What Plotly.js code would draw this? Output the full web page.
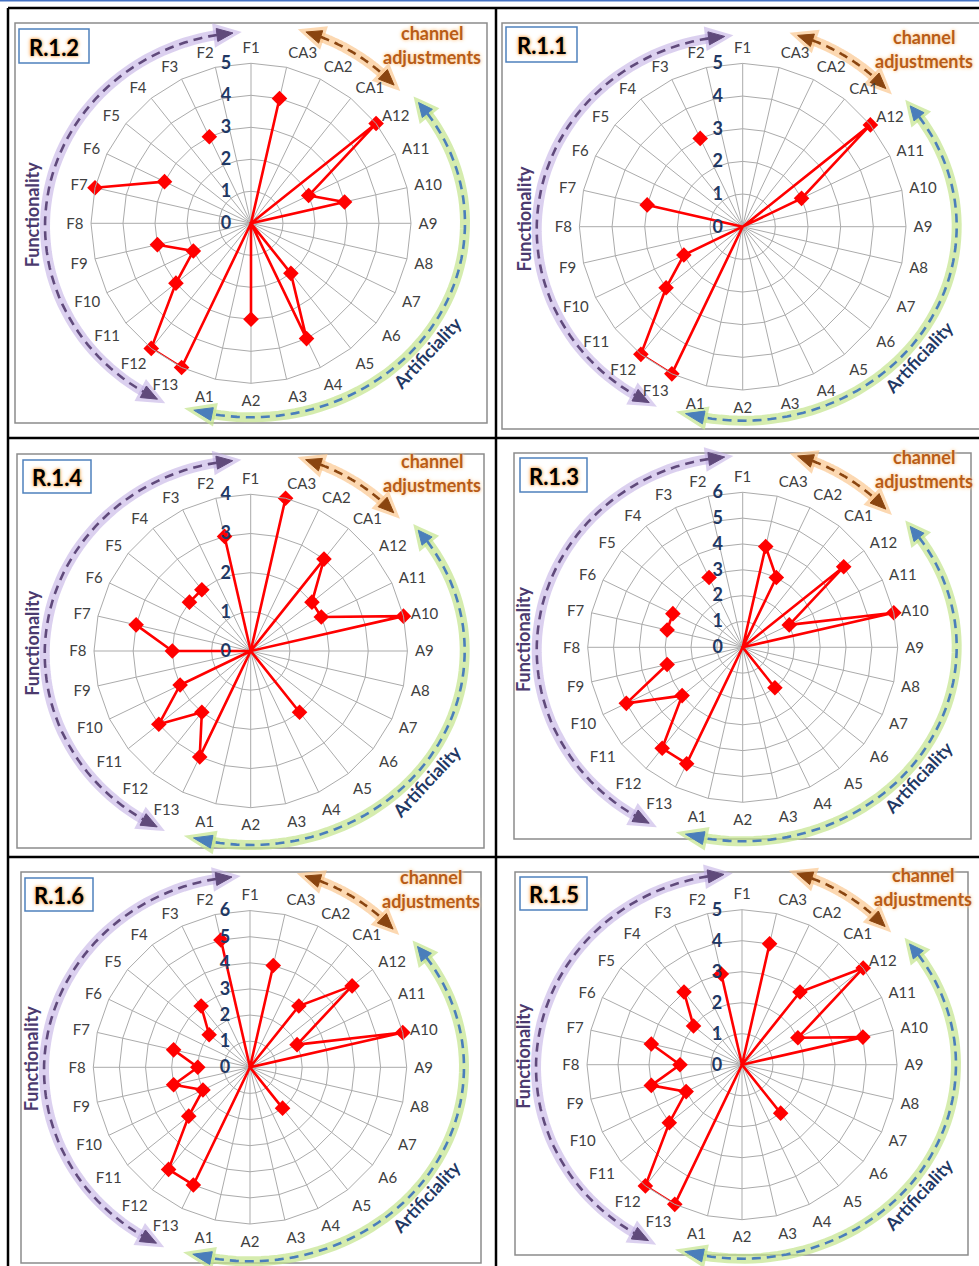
<!DOCTYPE html>
<html><head><meta charset="utf-8">
<script src="https://cdn.plot.ly/plotly-3.0.1.min.js"></script>
<style>html,body{margin:0;padding:0;background:#fff}#chart{width:979px;height:1266px}</style>
</head><body><div id="chart"></div>
<script>
// ---------- DATA ----------
const categories = ['F1','F2','F3','F4','F5','F6','F7','F8','F9','F10','F11','F12','F13',
  'A1','A2','A3','A4','A5','A6','A7','A8','A9','A10','A11','A12','CA1','CA2','CA3'];
const panelNames = ['R.1.2','R.1.1','R.1.4','R.1.3','R.1.6','R.1.5'];
const radialMax = [5,5,4,6,6,5];
//                F1   F2   F3   F4   F5   F6   F7 F8   F9 F10 F11 F12 F13 A1 A2 A3 A4 A5 A6 A7 A8 A9 A10 A11 A12 CA1 CA2 CA3
const r_R12 = [0, null, 3, null, null, 3, 5, null, 3, 2, 3, 5, 5, 0, 3, 0, 4, 2, 0, 0, 0, 0, 3, 2, 5, 0, 0, 4];
const r_R11 = [0, null, 3, null, null, null, 3, 0, 0, 2, 3, 5, 5, 0, 0, 0, 0, 0, 0, 0, 0, 0, 0, 2, 5, 0, 0, 0];
const r_R14 = [0, 3, null, 2, 2, null, 3, 2, 0, 2, 3, 2, 3, 0, 0, 0, 0, 2, 0, 0, 0, 0, 4, 2, 2, 3, 0, 4];
const r_R13 = [0, null, 3, null, null, 3, 3, null, 3, 5, 3, 5, 5, 0, 0, 0, 0, 2, 0, 0, 0, 0, 6, 2, 5, 0, 3, 4];
const r_R16 = [0, 5, null, 3, 2, null, 3, 2, 3, 2, 3, 5, 5, 0, 0, 0, 0, 2, 0, 0, 0, 0, 6, 2, 5, 3, 0, 4];
const r_R15 = [0, 3, null, 3, 2, null, 3, 2, 3, 2, 3, 5, 5, 0, 0, 0, 0, 2, 0, 0, 0, 0, 4, 2, 5, 3, 0, 4];
const seriesValues = [r_R12, r_R11, r_R14, r_R13, r_R16, r_R15];

// ---------- LAYOUT CONFIG ----------
const W = 979, H = 1266;
const panels = [
  {cx:251,   cy:223.3,  R:160,   box:[15,23,487,423],   lab:[19,29,89,63]},
  {cx:742.7, cy:226.7,  R:163.3, box:[502,23,990,429],  lab:[506,27,577,62]},
  {cx:250.7, cy:651,    R:156.7, box:[17,454,484,848],  lab:[23,460,91,493]},
  {cx:742.7, cy:647.3,  R:155,   box:[514,453,971,839], lab:[520,458,587,492]},
  {cx:250,   cy:1067.3, R:156.7, box:[21,872,481,1263], lab:[25,878,93,911]},
  {cx:742,   cy:1064.7, R:155,   box:[515,872,968,1255],lab:[520,877,587,910]}
];
const FONT = 'Lato, Open Sans, sans-serif';

function pt(cx,cy,rx,ry,t){const a=t*Math.PI/180;return [cx+rx*Math.sin(a), cy-ry*Math.cos(a)];}
function arcPath(cx,cy,rx,ry,t0,t1){
  const n=60;let s='';
  for(let i=0;i<=n;i++){const p=pt(cx,cy,rx,ry,t0+(t1-t0)*i/n);s+=(i?' L ':'M ')+p[0].toFixed(1)+' '+p[1].toFixed(1);}
  return s;
}
function headPath(cx,cy,rx,ry,tb,tt,w){
  const B=pt(cx,cy,rx,ry,tb),P=pt(cx,cy,rx,ry,tt);
  let dx=P[0]-B[0],dy=P[1]-B[1];const L=Math.hypot(dx,dy);dx/=L;dy/=L;
  const nx=-dy*w/2,ny=dx*w/2;
  return `M ${P[0].toFixed(1)} ${P[1].toFixed(1)} L ${(B[0]+nx).toFixed(1)} ${(B[1]+ny).toFixed(1)} L ${(B[0]-nx).toFixed(1)} ${(B[1]-ny).toFixed(1)} Z`;
}

const shapes = [];
const annotations = [];
function line(x0,y0,x1,y1,color,width){shapes.push({type:'line',xref:'x',yref:'y',x0,y0,x1,y1,line:{color,width},layer:'below'});}

// top blue rule and table grid
line(0,0.8,W,0.8,'#4472c4',1.6);
line(8,8,W+5,8,'#000',2.5);
line(8,8,8,H+5,'#000',2.5);
line(496,8,496,H+5,'#000',2.5);
line(8,438,W+5,438,'#000',2.5);
line(8,857,W+5,857,'#000',2.5);

function arrowArc(cx,cy,rx,ry,t0,t1,h0,h1,glow,color){
  shapes.push({type:'path',xref:'x',yref:'y',path:arcPath(cx,cy,rx,ry,t0,t1),line:{color:glow,width:10},layer:'below'});
  shapes.push({type:'path',xref:'x',yref:'y',path:headPath(cx,cy,rx,ry,t0,h0,14),line:{color:glow,width:7},fillcolor:glow,layer:'below'});
  shapes.push({type:'path',xref:'x',yref:'y',path:headPath(cx,cy,rx,ry,t1,h1,14),line:{color:glow,width:7},fillcolor:glow,layer:'below'});
  shapes.push({type:'path',xref:'x',yref:'y',path:arcPath(cx,cy,rx,ry,t0,t1),line:{color:color,width:2.6,dash:'9px,6px'},layer:'below'});
  shapes.push({type:'path',xref:'x',yref:'y',path:headPath(cx,cy,rx,ry,t0,h0,13),line:{color:color,width:1},fillcolor:color,layer:'below'});
  shapes.push({type:'path',xref:'x',yref:'y',path:headPath(cx,cy,rx,ry,t1,h1,13),line:{color:color,width:1},fillcolor:color,layer:'below'});
}

const traces = [];
const layout = {
  width:W, height:H, margin:{l:0,r:0,t:0,b:0}, paper_bgcolor:'#fff', plot_bgcolor:'rgba(0,0,0,0)',
  showlegend:false, hovermode:false,
  xaxis:{range:[0,W],domain:[0,1],visible:false,fixedrange:true},
  yaxis:{range:[H,0],domain:[0,1],visible:false,fixedrange:true},
  shapes, annotations
};

panels.forEach((p,i)=>{
  const key = i===0?'polar':'polar'+(i+1);
  const max = radialMax[i];
  const ticks=[];for(let k=0;k<=max;k++)ticks.push(k);
  layout[key] = {
    domain:{x:[(p.cx-p.R)/W,(p.cx+p.R)/W], y:[(H-(p.cy+p.R))/H,(H-(p.cy-p.R))/H]},
    bgcolor:'rgba(0,0,0,0)',
    gridshape:'linear',
    angularaxis:{type:'category',categoryarray:categories,direction:'counterclockwise',rotation:90,
      tickfont:{family:FONT,size:15,color:'#404040'},
      gridcolor:'#ababab',gridwidth:1,linecolor:'#ababab',linewidth:1,showline:true,
      ticks:'outside',ticklen:4,tickcolor:'rgba(0,0,0,0)'},
    radialaxis:{range:[0,max],tickvals:ticks,angle:90,side:'counterclockwise',showline:false,
      tickangle:90,
      gridcolor:'#ababab',gridwidth:1,
      tickfont:{family:FONT,size:18,color:'#1f3864',weight:'bold'},
      ticks:'outside',ticklen:13,tickcolor:'rgba(0,0,0,0)'}
  };
  const vals = seriesValues[i];
  traces.push({type:'scatterpolar',subplot:key,mode:'lines+markers',
    theta:categories.concat([categories[0]]), r:vals.concat([vals[0]]),
    line:{color:'#ff0000',width:2.6}, marker:{symbol:'diamond',size:12,color:'#ff0000'},
    connectgaps:false, cliponaxis:false});

  shapes.push({type:'rect',xref:'x',yref:'y',x0:p.box[0],y0:p.box[1],x1:p.box[2],y1:p.box[3],line:{color:'#8c8c8c',width:1.5},layer:'below'});
  shapes.push({type:'rect',xref:'x',yref:'y',x0:p.lab[0],y0:p.lab[1],x1:p.lab[2],y1:p.lab[3],line:{color:'#4f81bd',width:1.5},fillcolor:'#fff',layer:'below'});
  annotations.push({xref:'x',yref:'y',x:(p.lab[0]+p.lab[2])/2,y:(p.lab[1]+p.lab[3])/2+1,text:panelNames[i],showarrow:false,
    font:{family:FONT,size:22,color:'#000',weight:'bold',shadow:'0 0 3px #f9b46b, 0 0 4px #f9b46b, 0 0 2px #fbd0a0'}});

  const cx=p.cx, cy=p.cy;
  arrowArc(cx,cy+3,206,194,-9.5,-148.5,-5,-153,'rgba(190,170,225,0.55)','#604a7b');
  arrowArc(cx,cy,199,199,20.5,41.5,16,46,'rgba(250,195,135,0.65)','#8a4510');
  arrowArc(cx,cy,214,194,55.5,190.5,51.5,195.5,'rgba(195,228,140,0.7)','#4a7ebb');

  const brown = {family:FONT,size:18,color:'#b85c17',weight:'bold',shadow:'0 0 3px #fcd3a3, 0 0 4px #fcd3a3'};
  annotations.push({xref:'x',yref:'y',x:cx+181,y:cy-190,text:'channel',showarrow:false,font:brown});
  annotations.push({xref:'x',yref:'y',x:cx+181,y:cy-166,text:'adjustments',showarrow:false,font:brown});
  annotations.push({xref:'x',yref:'y',x:cx-219,y:cy-8,text:'Functionality',textangle:-90,showarrow:false,
    font:{family:FONT,size:18,color:'#4b3a6e',weight:'bold'}});
  annotations.push({xref:'x',yref:'y',x:cx+176,y:cy+130,text:'Artificiality',textangle:-47,showarrow:false,
    font:{family:FONT,size:18,color:'#1f3864',weight:'bold'}});
});

Plotly.newPlot('chart', traces, layout, {staticPlot:true, displayModeBar:false});
</script></body></html>
